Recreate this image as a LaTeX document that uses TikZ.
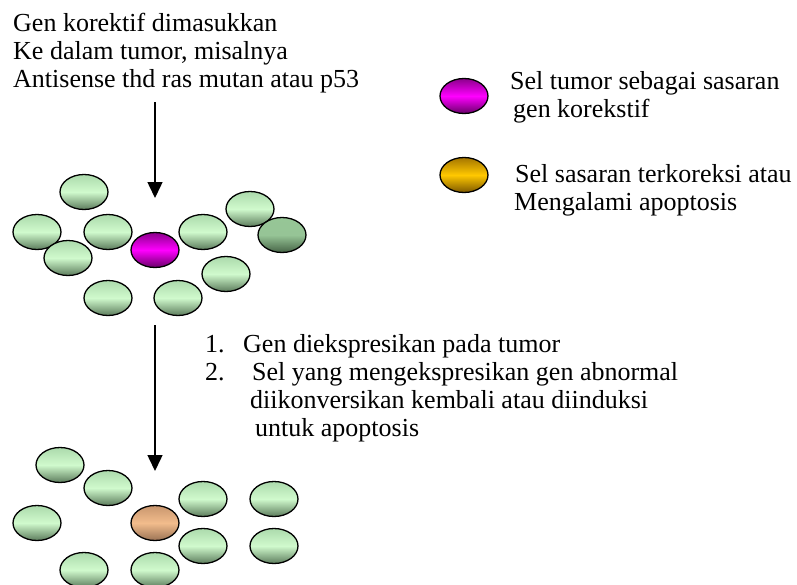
\documentclass[tikz,border=0pt]{standalone}
\usepackage{fontspec}
\setmainfont{Liberation Serif}
\newfontfamily\tnr{Liberation Serif}
\usetikzlibrary{shapes.geometric,arrows.meta}
\definecolor{gTop}{RGB}{172,218,172}
\definecolor{gMid}{RGB}{208,250,205}
\definecolor{gBot}{RGB}{92,124,92}
\definecolor{dTop}{RGB}{150,198,150}
\definecolor{dMid}{RGB}{150,196,150}
\definecolor{dBot}{RGB}{70,100,70}
\definecolor{mTop}{RGB}{140,0,140}
\definecolor{mMid}{RGB}{255,0,255}
\definecolor{mBot}{RGB}{105,0,105}
\definecolor{yTop}{RGB}{165,118,0}
\definecolor{yMid}{RGB}{255,200,0}
\definecolor{yBot}{RGB}{125,88,0}
\definecolor{pTop}{RGB}{200,150,110}
\definecolor{pMid}{RGB}{242,188,140}
\definecolor{pBot}{RGB}{155,115,85}
\tikzset{
  cellbase/.style={ellipse, draw=black, line width=1.3pt, minimum width=48pt, minimum height=35pt, inner sep=0pt},
  cell/.style={cellbase, top color=gTop, bottom color=gBot, middle color=gMid},
  darkcell/.style={cellbase, top color=dTop, bottom color=dBot, middle color=dMid},
  tumorcell/.style={cellbase, top color=mTop, bottom color=mBot, middle color=mMid},
  fixedcell/.style={cellbase, top color=yTop, bottom color=yBot, middle color=yMid},
  donecell/.style={cellbase, top color=pTop, bottom color=pBot, middle color=pMid},
  txt/.style={anchor=base west, inner sep=0pt, font=\tnr\fontsize{26}{28}\selectfont, text=black},
  flow/.style={line width=1.5pt, -{Triangle[width=15pt,length=16pt]}}
}
\newcommand{\lines}[1]{\begin{tabular}[t]{@{}l@{}}#1\end{tabular}}
\begin{document}
\begin{tikzpicture}[x=1pt,y=-1pt]
\useasboundingbox (0,0) rectangle (797,584);
% top text
\node[txt] (intro) at (13,31) {\lines{Gen korektif dimasukkan\\Ke dalam tumor, misalnya\\Antisense thd ras mutan atau p53}};
% legend
\node[tumorcell] (legT) at (464,96) {};
\node[txt] (legTtxt) at (510,89) {\lines{Sel tumor sebagai sasaran\\\hspace*{3pt}gen korekstif}};
\node[fixedcell] (legF) at (464,175) {};
\node[txt] (legFtxt) at (515,182) {\lines{Sel sasaran terkoreksi atau\\\hspace*{-1pt}Mengalami apoptosis}};
% arrow 1
\coordinate (a1s) at (155,102);
\coordinate (a1e) at (155,198);
\draw[flow] (a1s) -- (a1e);
% first cluster
\node[cell] (c1) at (84,192) {};
\node[cell] (c2) at (37,232) {};
\node[cell] (c3) at (108,232) {};
\node[cell] (c4) at (68,258) {};
\node[tumorcell] (c5) at (155,250) {};
\node[cell] (c6) at (203,232) {};
\node[cell] (c7) at (250,209) {};
\node[darkcell] (c8) at (282,235) {};
\node[cell] (c9) at (226,274) {};
\node[cell] (c10) at (108,298) {};
\node[cell] (c11) at (178,298) {};
% arrow 2
\coordinate (a2s) at (155,325);
\coordinate (a2e) at (155,471);
\draw[flow] (a2s) -- (a2e);
% steps text
\node[txt] (steps) at (205,352) {\lines{\makebox[38pt][l]{1.}Gen diekspresikan pada tumor\\
\makebox[47pt][l]{2.}Sel yang mengekspresikan gen abnormal\\
\hspace*{45pt}diikonversikan kembali atau diinduksi\\
\hspace*{50pt}untuk apoptosis}};
% second cluster
\node[cell] (d1) at (60,465) {};
\node[cell] (d2) at (108,488) {};
\node[cell] (d3) at (37,523) {};
\node[donecell] (d4) at (155,523) {};
\node[cell] (d5) at (203,499) {};
\node[cell] (d6) at (274,499) {};
\node[cell] (d7) at (203,546) {};
\node[cell] (d8) at (274,546) {};
\node[cell] (d9) at (84,570) {};
\node[cell] (d10) at (155,570) {};
\end{tikzpicture}
\end{document}
